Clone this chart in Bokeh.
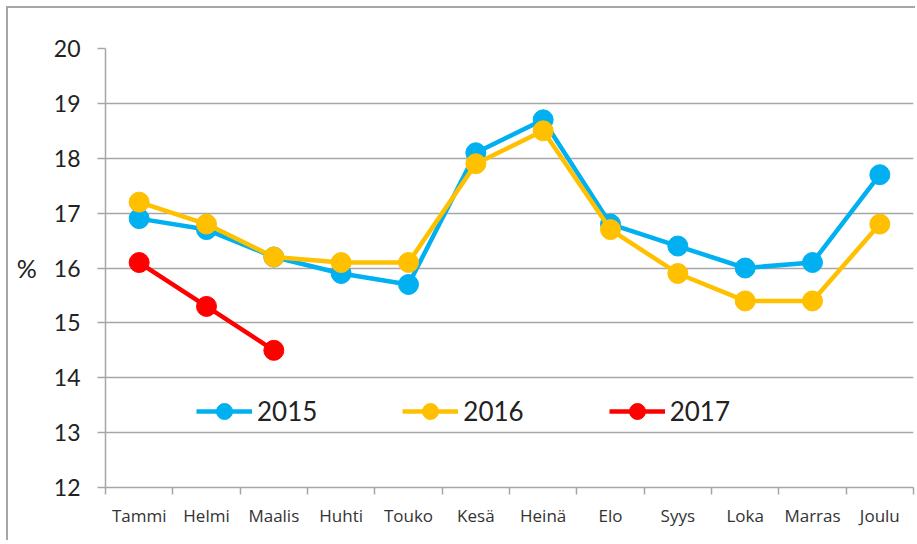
from bokeh.plotting import figure
from bokeh.models import FixedTicker, Range1d, Legend
from bokeh.embed import file_html
from bokeh.resources import INLINE

months = ["Tammi", "Helmi", "Maalis", "Huhti", "Touko", "Kesä", "Heinä",
          "Elo", "Syys", "Loka", "Marras", "Joulu"]
y2015 = [16.9, 16.7, 16.2, 15.9, 15.7, 18.1, 18.7, 16.8, 16.4, 16.0, 16.1, 17.7]
y2016 = [17.2, 16.8, 16.2, 16.1, 16.1, 17.9, 18.5, 16.7, 15.9, 15.4, 15.4, 16.8]
y2017 = [16.1, 15.3, 14.5]
y_ticks = [12, 13, 14, 15, 16, 17, 18, 19, 20]

series = [("2015", y2015, "#00B0F0"), ("2016", y2016, "#FFC000"), ("2017", y2017, "#FF0000")]

FONT = "Lato"

p = figure(width=909, height=534, output_backend="svg", toolbar_location=None,
           x_range=Range1d(0, len(months)), y_range=Range1d(12, 20),
           min_border_left=97, min_border_top=40, min_border_right=4, min_border_bottom=55)
p.styles = {"border-left": "2px solid #a6a6a6", "border-top": "2px solid #a6a6a6",
            "margin-left": "6px", "margin-top": "6px"}
p.outline_line_color = None
p.background_fill_color = "white"

xs = [i + 0.5 for i in range(len(months))]

items = []
for name, ys, col in series:
    x = xs[:len(ys)]
    r1 = p.line(x, ys, line_color=col, line_width=4.5)
    r2 = p.scatter(x, ys, size=20, fill_color=col, line_color=col)
    items.append((name, [r1, r2]))

legend = Legend(items=items, orientation="horizontal", location=(91, 56),
                label_text_font=FONT, label_text_font_size="26px", label_text_color="#222222",
                glyph_width=56, glyph_height=40, spacing=85, padding=6, label_standoff=5,
                border_line_color=None, background_fill_alpha=0)
p.add_layout(legend, "center")

# x axis
xa = p.xaxis[0]
xa.ticker = FixedTicker(ticks=xs, minor_ticks=list(range(len(months) + 1)))
xa.major_label_overrides = {x: m for x, m in zip(xs, months)}
xa.major_tick_out = 0
xa.major_tick_in = 0
xa.minor_tick_out = 7
xa.minor_tick_in = 0
xa.minor_tick_line_color = "#a6a6a6"
xa.minor_tick_line_width = 1.5
xa.axis_line_color = "#a6a6a6"
xa.axis_line_width = 1.5
xa.major_label_text_font = "Open Sans"
xa.major_label_text_font_size = "17px"
xa.major_label_text_color = "#333333"
xa.major_label_standoff = 9

# y axis
ya = p.yaxis[0]
ya.ticker = FixedTicker(ticks=y_ticks)
ya.minor_tick_line_color = None
ya.major_tick_out = 8
ya.major_tick_in = 0
ya.major_tick_line_color = "#a6a6a6"
ya.major_tick_line_width = 1.5
ya.axis_line_color = "#a6a6a6"
ya.axis_line_width = 1.5
ya.major_label_text_font = FONT
ya.major_label_text_font_size = "23px"
ya.major_label_text_color = "#222222"
ya.major_label_standoff = 17
ya.axis_label = "%"
ya.axis_label_orientation = "horizontal"
ya.axis_label_text_font = FONT
ya.axis_label_text_font_style = "normal"
ya.axis_label_text_font_size = "25px"
ya.axis_label_text_color = "#222222"
ya.axis_label_standoff = 14

p.xgrid.grid_line_color = None
p.ygrid.grid_line_color = "#a6a6a6"
p.ygrid.grid_line_width = 1.5

open("out.html", "w").write(file_html(p, INLINE))
